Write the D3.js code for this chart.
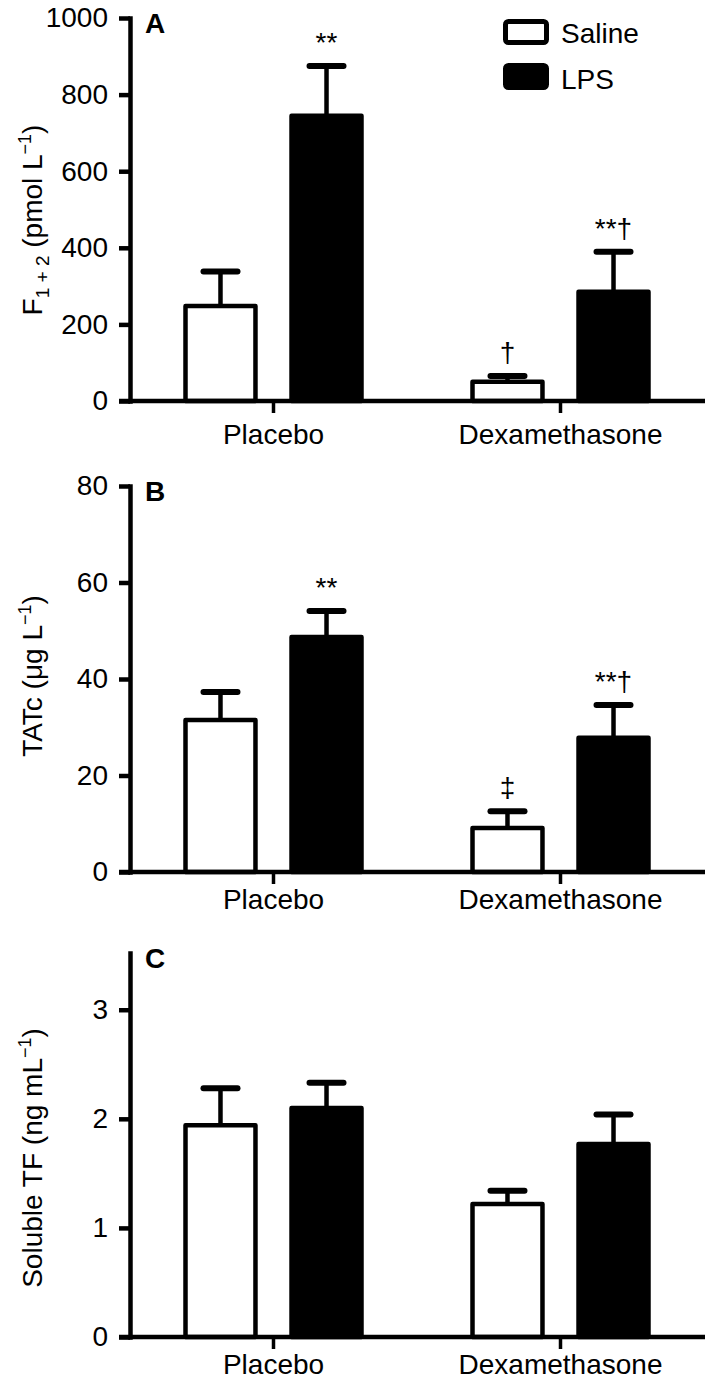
<!DOCTYPE html>
<html>
<head>
<meta charset="utf-8">
<script src="https://cdn.jsdelivr.net/npm/d3@7"></script>
<style>
  html, body { margin: 0; padding: 0; background: #fff; }
  svg text { font-family: "Liberation Sans", Arial, Helvetica, sans-serif; fill: #000; }
</style>
</head>
<body>
<svg id="chart" width="709" height="1390"></svg>
<script>
// ---------- data ----------
const groups = ["Placebo", "Dexamethasone"];
const seriesNames = ["Saline", "LPS"];

// Panel A: F1+2 (pmol/L)
const f12Saline = [248, 50];
const f12SalineErr = [90, 15];
const f12LPS = [745, 285];
const f12LPSErr = [130, 105];
const f12SalineMarks = ["", "†"];
const f12LPSMarks = ["**", "**†"];
const f12Ticks = [0, 200, 400, 600, 800, 1000];

// Panel B: TATc (ug/L)
const tatSaline = [31.5, 9.1];
const tatSalineErr = [5.8, 3.5];
const tatLPS = [48.7, 27.8];
const tatLPSErr = [5.4, 6.8];
const tatSalineMarks = ["", "‡"];
const tatLPSMarks = ["**", "**†"];
const tatTicks = [0, 20, 40, 60, 80];

// Panel C: Soluble TF (ng/mL)
const tfSaline = [1.94, 1.22];
const tfSalineErr = [0.34, 0.12];
const tfLPS = [2.10, 1.77];
const tfLPSErr = [0.23, 0.27];
const tfSalineMarks = ["", ""];
const tfLPSMarks = ["", ""];
const tfTicks = [0, 1, 2, 3];

// ---------- layout ----------
const FS = 28;
const AXW = 4.5;
const svg = d3.select("#chart");

const panels = [
  { letter: "A", top: 18, bottom: 401, max: 1000, ticks: f12Ticks, xPad: 11,
    saline: f12Saline, salineErr: f12SalineErr, lps: f12LPS, lpsErr: f12LPSErr,
    salineMarks: f12SalineMarks, lpsMarks: f12LPSMarks,
    labelY: 220, label: [["F", 0], ["1 + 2", 1], [" (pmol L", 0], ["−1", 2], [")", 0]] },
  { letter: "B", top: 486, bottom: 872, max: 80, ticks: tatTicks, xPad: 5,
    saline: tatSaline, salineErr: tatSalineErr, lps: tatLPS, lpsErr: tatLPSErr,
    salineMarks: tatSalineMarks, lpsMarks: tatLPSMarks,
    labelY: 676, label: [["TATc (μg L", 0], ["−1", 2], [")", 0]] },
  { letter: "C", top: 953, bottom: 1337, max: 3.52, ticks: tfTicks, xPad: 5,
    saline: tfSaline, salineErr: tfSalineErr, lps: tfLPS, lpsErr: tfLPSErr,
    salineMarks: tfSalineMarks, lpsMarks: tfLPSMarks,
    labelY: 1158, label: [["Soluble TF (ng mL", 0], ["−1", 2], [")", 0]] }
];

const x0 = d3.scaleBand().domain(groups).range([130, 704]).padding(0);
const x1 = d3.scaleBand().domain(seriesNames).range([-88, 88]).paddingInner(0.34).paddingOuter(0);

panels.forEach(p => {
  const y = d3.scaleLinear().domain([0, p.max]).range([p.bottom, p.top]);
  const g = svg.append("g");

  const rows = [];
  groups.forEach((grp, i) => {
    rows.push({ grp, s: "Saline", v: p.saline[i], e: p.salineErr[i], m: p.salineMarks[i] });
    rows.push({ grp, s: "LPS", v: p.lps[i], e: p.lpsErr[i], m: p.lpsMarks[i] });
  });
  const cx = d => x0(d.grp) + x0.bandwidth() / 2 + x1(d.s) + x1.bandwidth() / 2;

  // error bars (upper only)
  g.selectAll(".ev").data(rows).join("line")
    .attr("x1", cx).attr("x2", cx)
    .attr("y1", d => y(d.v)).attr("y2", d => y(d.v + d.e))
    .attr("stroke", "#000").attr("stroke-width", 4.5);
  g.selectAll(".ec").data(rows).join("line")
    .attr("x1", d => cx(d) - 17).attr("x2", d => cx(d) + 17)
    .attr("y1", d => y(d.v + d.e)).attr("y2", d => y(d.v + d.e))
    .attr("stroke", "#000").attr("stroke-width", 6).attr("stroke-linecap", "round");

  g.selectAll(".bar").data(rows).join("rect")
    .attr("x", d => x0(d.grp) + x0.bandwidth() / 2 + x1(d.s))
    .attr("width", x1.bandwidth())
    .attr("y", d => y(d.v))
    .attr("height", d => y(0) - y(d.v))
    .attr("fill", d => d.s === "LPS" ? "#000" : "#fff")
    .attr("stroke", "#000").attr("stroke-width", 4.5)
    .attr("stroke-linejoin", "round");

  // significance marks
  g.selectAll(".mk").data(rows.filter(d => d.m)).join("text")
    .attr("x", cx).attr("y", d => y(d.v + d.e) - 14)
    .attr("text-anchor", "middle").attr("font-size", FS)
    .text(d => d.m);

  // y axis
  const ya = d3.axisLeft(y).tickValues(p.ticks).tickSize(11).tickPadding(11).tickSizeOuter(0)
    .tickFormat(d3.format("d"));
  const yg = g.append("g").attr("transform", "translate(130,0)").call(ya);
  yg.select(".domain").attr("stroke-width", AXW).attr("stroke-linecap", "square");
  yg.selectAll(".tick line").attr("stroke-width", AXW);
  yg.selectAll(".tick text").attr("font-size", FS).attr("font-family", null);

  // x axis
  const xa = d3.axisBottom(x0).tickSize(12).tickPadding(p.xPad).tickSizeOuter(0);
  const xg = g.append("g").attr("transform", `translate(0,${p.bottom})`).call(xa);
  xg.select(".domain").remove();
  xg.append("line").attr("x1", 119).attr("x2", 705).attr("y1", 0).attr("y2", 0)
    .attr("stroke", "#000").attr("stroke-width", AXW);
  xg.selectAll(".tick line").attr("stroke-width", 3.5);
  xg.selectAll(".tick text").attr("font-size", FS).attr("font-family", null);

  // panel letter
  g.append("text").attr("x", 145).attr("y", p.top + 15)
    .attr("font-size", FS).attr("font-weight", "bold").text(p.letter);

  // y label
  const t = g.append("text")
    .attr("transform", `translate(42,${p.labelY}) rotate(-90)`)
    .attr("text-anchor", "middle").attr("font-size", FS);
  let shift = 0;
  p.label.forEach(([txt, kind]) => {
    const ts = t.append("tspan").text(txt);
    if (kind === 1) { ts.attr("font-size", 19).attr("dy", 7 - shift); shift = 7; }
    else if (kind === 2) { ts.attr("font-size", 18).attr("dy", -11 - shift); shift = -11; }
    else { ts.attr("dy", -shift); shift = 0; }
  });
});

// legend
const lg = svg.append("g");
lg.selectAll("rect").data(seriesNames).join("rect")
  .attr("x", 505.5).attr("y", (d, i) => i === 0 ? 21.5 : 65.5)
  .attr("width", 41).attr("height", (d, i) => i === 0 ? 21 : 22)
  .attr("rx", 3)
  .attr("fill", d => d === "LPS" ? "#000" : "#fff")
  .attr("stroke", "#000").attr("stroke-width", 5);
lg.selectAll("text").data(seriesNames).join("text")
  .attr("x", 561).attr("y", (d, i) => i === 0 ? 43 : 89)
  .attr("font-size", FS).text(d => d);
</script>
</body>
</html>
